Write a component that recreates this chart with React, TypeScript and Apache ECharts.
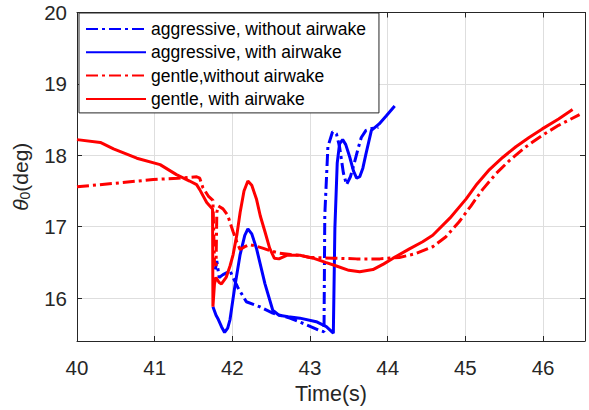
import React, { useEffect, useRef } from "react";
import * as echarts from "echarts";

const aggressiveWithout: [number, number][] = [
  [41.78, 16.4], [41.8, 16.52], [41.83, 16.29], [41.88, 16.33], [41.97, 16.38], [42.07, 16.15],
  [42.18, 15.95], [42.35, 15.88], [42.52, 15.79], [42.74, 15.72], [42.95, 15.63],
  [43.12, 15.55], [43.18, 15.53], [43.19, 17.16], [43.23, 18.12], [43.29, 18.33],
  [43.34, 18.3], [43.38, 18.12], [43.43, 17.75], [43.47, 17.59], [43.52, 17.7],
  [43.57, 17.89], [43.62, 18.1], [43.66, 18.25], [43.72, 18.35], [43.77, 18.37], [43.88, 18.39],
];

const aggressiveWith: [number, number][] = [
  [41.75, 15.88], [41.79, 15.76], [41.82, 15.7], [41.86, 15.6], [41.9, 15.52],
  [41.94, 15.58], [41.97, 15.7], [42.03, 16.15], [42.1, 16.61], [42.16, 16.88],
  [42.2, 16.97], [42.25, 16.9], [42.31, 16.7], [42.42, 16.2], [42.52, 15.83],
  [42.6, 15.76], [42.72, 15.74], [42.87, 15.72], [43.08, 15.67], [43.21, 15.6],
  [43.3, 15.51], [43.32, 16.98], [43.35, 17.89], [43.38, 18.16], [43.42, 18.22],
  [43.46, 18.15], [43.51, 17.98], [43.56, 17.78], [43.6, 17.68], [43.64, 17.7],
  [43.68, 17.82], [43.72, 18.02], [43.79, 18.35], [43.89, 18.44], [43.98, 18.55], [44.09, 18.69],
];

const gentleWithout: [number, number][] = [
  [40.0, 17.56], [40.5, 17.61], [40.98, 17.66], [41.3, 17.68], [41.54, 17.7],
  [41.58, 17.68], [41.62, 17.55], [41.69, 17.43], [41.75, 17.37], [41.77, 16.5],
  [41.79, 16.45], [41.8, 17.2], [41.82, 17.29], [41.88, 17.25], [41.94, 17.16],
  [42.01, 16.93], [42.06, 16.78], [42.1, 16.68], [42.16, 16.72], [42.22, 16.75],
  [42.3, 16.73], [42.39, 16.7], [42.5, 16.66], [42.61, 16.63], [42.75, 16.61],
  [42.87, 16.6], [43.0, 16.57], [43.3, 16.56], [43.6, 16.55], [43.9, 16.55],
  [44.15, 16.57], [44.35, 16.62], [44.58, 16.72], [44.75, 16.86], [44.92, 17.07],
  [45.07, 17.29], [45.22, 17.52], [45.4, 17.75], [45.57, 17.93], [45.78, 18.12],
  [45.99, 18.28], [46.2, 18.42], [46.47, 18.57],
];

const gentleWith: [number, number][] = [
  [40.0, 18.22], [40.3, 18.18], [40.47, 18.09], [40.77, 17.96], [41.07, 17.87],
  [41.28, 17.73], [41.45, 17.64], [41.54, 17.59], [41.58, 17.52], [41.67, 17.34],
  [41.745, 17.25], [41.75, 15.88], [41.77, 16.2], [41.79, 16.29], [41.83, 16.22],
  [41.86, 16.2], [41.92, 16.29], [41.97, 16.45], [42.01, 16.61], [42.06, 16.9],
  [42.1, 17.2], [42.15, 17.5], [42.2, 17.64], [42.25, 17.58], [42.31, 17.39],
  [42.36, 17.15], [42.42, 16.93], [42.48, 16.7], [42.54, 16.56], [42.6, 16.55],
  [42.7, 16.6], [42.87, 16.6], [43.04, 16.56], [43.2, 16.5], [43.34, 16.45],
  [43.5, 16.39], [43.64, 16.37], [43.81, 16.4], [43.95, 16.48], [44.07, 16.56],
  [44.28, 16.69], [44.45, 16.79], [44.58, 16.88], [44.8, 17.12], [45.01, 17.39],
  [45.15, 17.6], [45.31, 17.8], [45.48, 17.97], [45.65, 18.12], [45.82, 18.25],
  [45.99, 18.37], [46.2, 18.51], [46.38, 18.64],
];

const legendNames = [
  "aggressive, without airwake",
  "aggressive, with airwake",
  "gentle,without airwake",
  "gentle, with airwake",
];

const xMin = 40;
const xMax = 46.54;
const yMin = 15.4;
const yMax = 20;

const FONT = "Liberation Sans, Arial, Helvetica, sans-serif";
const AX = "#262626";
const GRID = "#dedede";
const DASHDOT = [12, 4, 3, 4];

export default function App() {
  const ref = useRef<HTMLDivElement>(null);
  useEffect(() => {
    if (!ref.current) return;
    const chart = echarts.init(ref.current, undefined, { renderer: "svg" });
    const intOnly = (v: number) => (Math.abs(v - Math.round(v)) < 1e-6 ? String(Math.round(v)) : "");
    const baseX = {
      type: "value" as const,
      min: xMin,
      max: xMax,
      interval: 1,
      axisLine: { show: true, onZero: false, lineStyle: { color: AX, width: 1 } },
      axisTick: { show: true, inside: true, length: 5, lineStyle: { color: AX } },
    };
    const baseY = {
      type: "value" as const,
      min: yMin,
      max: yMax,
      splitNumber: 5,
      axisLine: { show: true, onZero: false, lineStyle: { color: AX, width: 1 } },
      axisTick: { show: true, inside: true, length: 5, lineStyle: { color: AX } },
    };
    const mk = (name: string, data: [number, number][], color: string, dash: boolean) => ({
      name,
      type: "line" as const,
      data,
      showSymbol: false,
      symbol: "none",
      smooth: false,
      lineStyle: { color, width: 3, type: dash ? DASHDOT : "solid" },
      itemStyle: { color },
      z: 3,
    });
    chart.setOption({
      animation: false,
      backgroundColor: "#ffffff",
      textStyle: { fontFamily: FONT },
      grid: { left: 77, right: 4, top: 12.5, bottom: 62, containLabel: false },
      legend: {
        orient: "vertical",
        left: 79,
        top: 13,
        padding: [7, 13, 5, 6],
        itemGap: 5.3,
        itemWidth: 60,
        itemHeight: 14,
        backgroundColor: "#ffffff",
        borderColor: AX,
        borderWidth: 1,
        borderRadius: 0,
        itemStyle: { opacity: 0 },
        textStyle: { fontSize: 17.5, color: "#000000", fontFamily: FONT },
        data: legendNames,
        z: 10,
      },
      xAxis: [
        {
          ...baseX,
          position: "bottom",
          name: "Time(s)",
          nameLocation: "middle",
          nameGap: 42,
          nameTextStyle: { fontSize: 21.5, color: AX, fontFamily: FONT },
          axisLabel: { show: true, fontSize: 20.5, color: AX, margin: 16, formatter: intOnly, fontFamily: FONT },
          splitLine: { show: true, lineStyle: { color: GRID, width: 1 } },
        },
        {
          ...baseX,
          position: "top",
          axisLabel: { show: false },
          splitLine: { show: false },
        },
      ],
      yAxis: [
        {
          ...baseY,
          position: "left",
          name: "{a|θ}{b|0}{c|(deg)}",
          nameLocation: "middle",
          nameGap: 45,
          nameRotate: 90,
          nameTextStyle: {
            color: AX,
            fontFamily: FONT,
            rich: {
              a: { fontSize: 21, fontStyle: "italic", color: AX, fontFamily: FONT },
              b: { fontSize: 14, color: AX, fontFamily: FONT, padding: [10, 0, 0, 0] },
              c: { fontSize: 21, color: AX, fontFamily: FONT },
            },
          },
          axisLabel: { show: true, fontSize: 20.5, color: AX, margin: 10, formatter: intOnly, fontFamily: FONT },
          splitLine: { show: true, lineStyle: { color: GRID, width: 1 } },
        },
        {
          ...baseY,
          position: "right",
          axisLabel: { show: false },
          splitLine: { show: false },
        },
      ],
      series: [
        mk(legendNames[0], aggressiveWithout, "#0000ff", true),
        mk(legendNames[1], aggressiveWith, "#0000ff", false),
        mk(legendNames[2], gentleWithout, "#ff0000", true),
        mk(legendNames[3], gentleWith, "#ff0000", false),
      ],
    });
    return () => chart.dispose();
  }, []);
  return <div ref={ref} style={{ width: 589, height: 410, position: "absolute", left: 0, top: 0 }} />;
}
